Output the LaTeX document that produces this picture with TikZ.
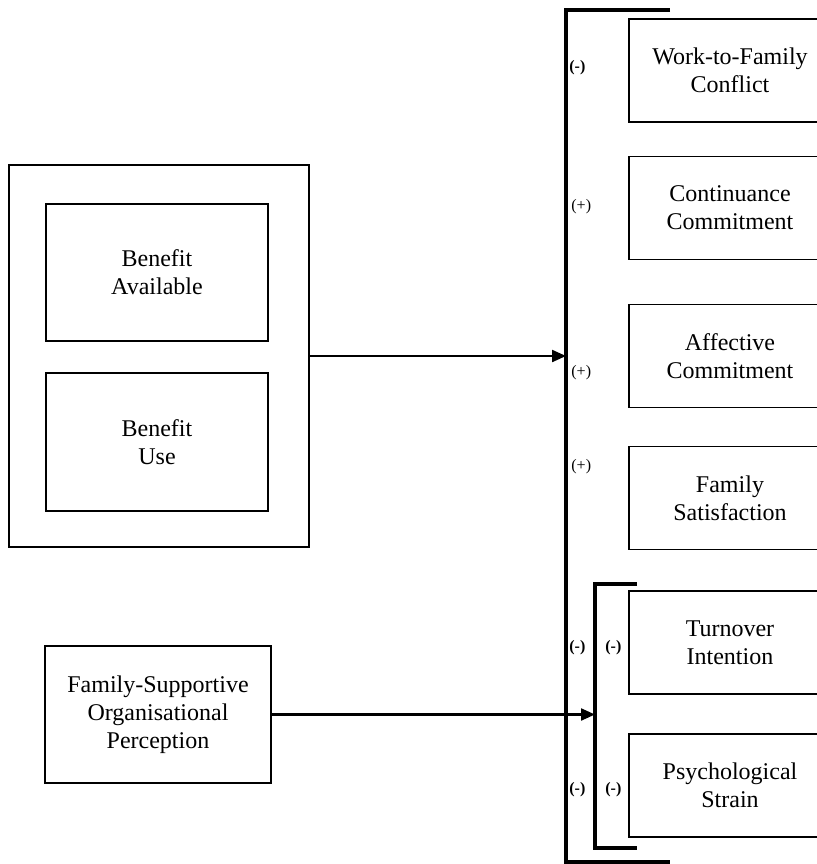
\documentclass[tikz,border=0pt]{standalone}
\usepackage{fontspec}
\setmainfont{Liberation Serif}
\usepackage{tikz}
\usetikzlibrary{arrows.meta, positioning}

\tikzset{
  varbox/.style={draw, line width=0.7pt, inner sep=0pt, align=center, font=\fontsize{12}{14}\selectfont},
  outbox/.style={varbox, minimum width=101pt, minimum height=51.5pt},
  bracket/.style={line width=2pt},
  link/.style={line width=1.1pt, -{Triangle[length=7pt, width=6pt]}},
  sign/.style={anchor=west, inner sep=0pt, font=\fontsize{8}{9}\selectfont}
}

\begin{document}
\begin{tikzpicture}[x=0.5pt, y=-0.5pt]
  \clip (0,0) rectangle (817,864);

  % Benefits
  \node[varbox, minimum width=150pt, minimum height=191pt] (benefits) at (159, 356) {};
  \node[varbox, minimum width=111pt, minimum height=68.5pt] (available) at (157, 272.5) {Benefit\\Available};
  \node[varbox, minimum width=111pt, minimum height=69pt] (use) at (157, 442) {Benefit\\Use};

  % Perception
  \node[varbox, minimum width=113pt, minimum height=68.5pt] (fsop) at (158, 714.5) {Family-Supportive\\Organisational\\Perception};

  % Outcomes
  \node[outbox] (conflict) at (730, 70.5) {Work-to-Family\\Conflict};
  \node[outbox] (continuance) at (730, 208) {Continuance\\Commitment};
  \node[outbox] (affective) at (730, 356) {Affective\\Commitment};
  \node[outbox] (satisfaction) at (730, 498) {Family\\Satisfaction};
  \node[outbox] (turnover) at (730, 642.5) {Turnover\\Intention};
  \node[outbox] (strain) at (730, 785.5) {Psychological\\Strain};

  % Brackets
  \draw[bracket] (670, 10) -- (566, 10) -- (566, 862) -- (670, 862);
  \draw[bracket] (637, 584) -- (595, 584) -- (595, 848) -- (637, 848);
  \coordinate (outerbar) at (566, 356);
  \coordinate (innerbar) at (595, 714.5);

  % Arrows
  \draw[link] (benefits.east) -- (outerbar);
  \draw[link] (fsop.east) -- (innerbar);

  % Signs
  \node[sign, font=\fontsize{8}{9}\selectfont\bfseries] (s1) at (569, 68) {(-)};
  \node[sign] (s2) at (571, 207) {(+)};
  \node[sign] (s3) at (571, 373) {(+)};
  \node[sign] (s4) at (571, 467) {(+)};
  \node[sign, font=\fontsize{8}{9}\selectfont\bfseries] (s5) at (569, 648) {(-)};
  \node[sign, font=\fontsize{8}{9}\selectfont\bfseries] (s6) at (605, 648) {(-)};
  \node[sign, font=\fontsize{8}{9}\selectfont\bfseries] (s7) at (569, 790) {(-)};
  \node[sign, font=\fontsize{8}{9}\selectfont\bfseries] (s8) at (605, 790) {(-)};
\end{tikzpicture}
\end{document}
